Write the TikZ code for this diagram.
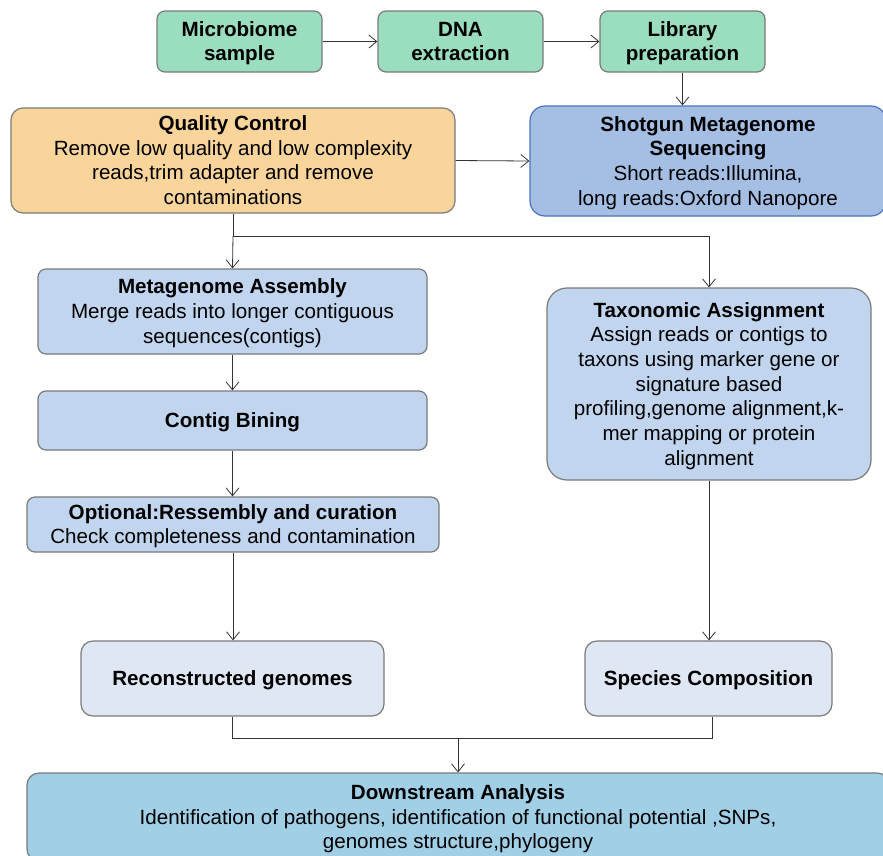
\documentclass[tikz,border=0pt]{standalone}
\usepackage{fontspec}
\setmainfont{Liberation Sans}
\usetikzlibrary{arrows.meta}
\definecolor{boxgreen}{HTML}{9ADDBF}
\definecolor{boxorange}{HTML}{FAD59B}
\definecolor{boxseq}{HTML}{A4BEE4}
\definecolor{seqedge}{HTML}{4A72BE}
\definecolor{boxblue}{HTML}{C1D5EF}
\definecolor{boxpale}{HTML}{DEE7F3}
\definecolor{boxsky}{HTML}{A0CFE6}
\definecolor{edgegray}{HTML}{7A7A7A}
\definecolor{linegray}{HTML}{333333}
% struts giving every text block the font's full ascent and descent
\newcommand{\ts}{\rule{0pt}{18.6pt}}
\newcommand{\bs}{\rule[-4.4pt]{0pt}{4.4pt}}
\tikzset{
  stage/.style={draw=edgegray, line width=1.2pt, rounded corners=8pt, align=center,
    inner sep=0pt, font=\fontsize{20.6}{24.7}\selectfont},
  flow/.style={draw=linegray, line width=0.8pt,
    -{Straight Barb[length=8pt,width=13pt,line width=0.8pt]}},
  link/.style={draw=linegray, line width=0.8pt},
}
\begin{document}
\begin{tikzpicture}[x=1pt,y=-1pt]
\useasboundingbox (0,0) rectangle (883,855);

% sample preparation
\node[stage, fill=boxgreen, minimum width=165pt, minimum height=61pt] (sample) at (239.5,41.5)
  {\ts\bfseries Microbiome\\\bfseries sample\bs};
\node[stage, fill=boxgreen, minimum width=165pt, minimum height=61pt] (dna) at (460.5,41.5)
  {\ts\bfseries DNA\\\bfseries extraction\bs};
\node[stage, fill=boxgreen, minimum width=165pt, minimum height=61pt] (lib) at (682.5,41.5)
  {\ts\bfseries Library\\\bfseries preparation\bs};

% sequencing and quality control
\node[stage, fill=boxseq, draw=seqedge, rounded corners=15pt, minimum width=356pt, minimum height=110pt] (seq) at (708,161)
  {\ts\bfseries Shotgun Metagenome\\\bfseries Sequencing\\Short reads:Illumina,\\long reads:Oxford Nanopore\bs};
\node[stage, fill=boxorange, rounded corners=12pt, minimum width=444pt, minimum height=105pt] (qc) at (233,160.5)
  {\ts\bfseries Quality Control\\Remove low quality and low complexity\\reads,trim adapter and remove\\contaminations\bs};

% genome-resolved branch
\node[stage, fill=boxblue, minimum width=389pt, minimum height=85pt] (asm) at (232.5,311.5)
  {\ts\bfseries Metagenome Assembly\\Merge reads into longer contiguous\\sequences(contigs)\bs};
\node[stage, fill=boxblue, minimum width=389pt, minimum height=59pt] (bin) at (232.5,420.5)
  {\ts\bfseries Contig Bining\bs};
\node[stage, fill=boxblue, minimum width=412pt, minimum height=55pt] (cur) at (233,524.5)
  {\ts\bfseries Optional:Ressembly and curation\\Check completeness and contamination\bs};
\node[stage, fill=boxpale, rounded corners=12pt, minimum width=303pt, minimum height=75pt] (gen) at (232.5,678.5)
  {\ts\bfseries Reconstructed genomes\bs};

% taxonomic branch
\node[stage, fill=boxblue, rounded corners=20pt, minimum width=324pt, minimum height=192pt] (tax) at (709,384)
  {\ts\bfseries Taxonomic Assignment\\Assign reads or contigs to\\taxons using marker gene or\\signature based\\profiling,genome alignment,k-\\mer mapping or protein\\alignment\bs};
\node[stage, fill=boxpale, rounded corners=12pt, minimum width=247pt, minimum height=75pt] (comp) at (708.5,678.5)
  {\ts\bfseries Species Composition\bs};

% downstream
\node[stage, fill=boxsky, rounded corners=12pt, minimum width=862pt, minimum height=88pt] (down) at (458,817)
  {\ts\bfseries Downstream Analysis\\Identification of pathogens, identification of functional potential ,SNPs,\\genomes structure,phylogeny\bs};

% connectors
\coordinate (split) at (233,236);
\coordinate (merge) at (458,738);
\draw[flow] (sample) -- (dna);
\draw[flow] (dna) -- (lib);
\draw[flow] (lib) -- (seq.north -| lib);
\draw[flow] (qc.east) -- (seq.west);
\draw[link] (qc.south) -- (split);
\draw[flow] (split) -- (asm.north);
\draw[flow] (split) -| (tax.north);
\draw[flow] (asm) -- (bin);
\draw[flow] (bin) -- (cur.north -| bin);
\draw[flow] (cur) -- (gen.north -| cur);
\draw[flow] (tax) -- (comp.north -| tax);
\draw[link] (gen.south) |- (merge);
\draw[link] (merge) -| ([xshift=4pt]comp.south);
\draw[flow] (merge) -- (merge |- down.north);
\end{tikzpicture}
\end{document}
